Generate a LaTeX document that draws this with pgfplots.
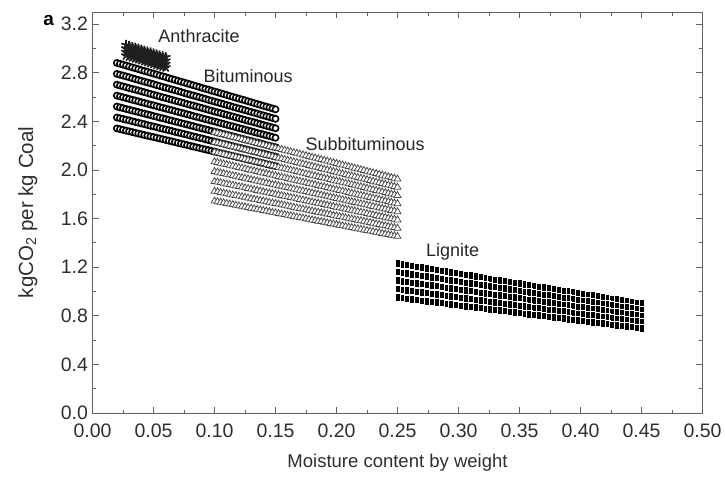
\documentclass[border=0pt]{standalone}
\usepackage{fontspec}
\setmainfont{Liberation Sans}
\usepackage{pgfplots}
\usepackage{pgfplotstable}
\pgfplotsset{compat=1.18}
\newcommand\lbl{\fontsize{18bp}{21bp}\selectfont}
\newcommand\tlbl{\fontsize{19.5bp}{23bp}\selectfont}

\pgfplotstableread{
m a1 a2 a3 a4
0.0275 3.029 3.000 2.971 2.942
0.0300 3.022 2.992 2.963 2.934
0.0325 3.014 2.985 2.956 2.927
0.0350 3.006 2.977 2.948 2.919
0.0375 2.998 2.969 2.940 2.912
0.0400 2.990 2.962 2.933 2.904
0.0425 2.983 2.954 2.925 2.896
0.0450 2.975 2.946 2.918 2.889
0.0475 2.967 2.938 2.910 2.881
0.0500 2.959 2.931 2.902 2.874
0.0525 2.951 2.923 2.895 2.866
0.0550 2.944 2.915 2.887 2.859
0.0575 2.936 2.908 2.879 2.851
0.0600 2.928 2.900 2.872 2.844
}\anth

\pgfplotstableread{
m b1 b2 b3 b4 b5 b6 b7
0.0200 2.881 2.791 2.702 2.612 2.522 2.432 2.342
0.0225 2.874 2.784 2.695 2.605 2.515 2.426 2.336
0.0250 2.867 2.777 2.688 2.598 2.509 2.420 2.330
0.0275 2.859 2.770 2.681 2.592 2.502 2.414 2.324
0.0300 2.852 2.763 2.674 2.585 2.496 2.408 2.318
0.0325 2.844 2.755 2.667 2.578 2.489 2.401 2.312
0.0350 2.837 2.748 2.661 2.572 2.483 2.395 2.306
0.0375 2.830 2.741 2.654 2.565 2.477 2.389 2.300
0.0400 2.822 2.734 2.647 2.558 2.470 2.383 2.294
0.0425 2.815 2.727 2.640 2.552 2.464 2.377 2.288
0.0450 2.808 2.720 2.633 2.545 2.457 2.370 2.282
0.0475 2.800 2.713 2.626 2.538 2.451 2.364 2.276
0.0500 2.793 2.706 2.619 2.532 2.444 2.358 2.271
0.0525 2.786 2.698 2.612 2.525 2.438 2.352 2.265
0.0550 2.778 2.691 2.605 2.518 2.431 2.345 2.259
0.0575 2.771 2.684 2.598 2.512 2.425 2.339 2.253
0.0600 2.764 2.677 2.592 2.505 2.419 2.333 2.247
0.0625 2.756 2.670 2.585 2.498 2.412 2.327 2.241
0.0650 2.749 2.663 2.578 2.492 2.406 2.321 2.235
0.0675 2.742 2.656 2.571 2.485 2.399 2.314 2.229
0.0700 2.734 2.649 2.564 2.478 2.393 2.308 2.223
0.0725 2.727 2.642 2.557 2.472 2.386 2.302 2.217
0.0750 2.720 2.634 2.550 2.465 2.380 2.296 2.211
0.0775 2.712 2.627 2.543 2.458 2.374 2.290 2.205
0.0800 2.705 2.620 2.536 2.452 2.367 2.283 2.199
0.0825 2.697 2.613 2.530 2.445 2.361 2.277 2.193
0.0850 2.690 2.606 2.523 2.438 2.354 2.271 2.187
0.0875 2.683 2.599 2.516 2.432 2.348 2.265 2.181
0.0900 2.675 2.592 2.509 2.425 2.341 2.259 2.175
0.0925 2.668 2.585 2.502 2.418 2.335 2.252 2.169
0.0950 2.661 2.577 2.495 2.412 2.329 2.246 2.163
0.0975 2.653 2.570 2.488 2.405 2.322 2.240 2.157
0.1000 2.646 2.563 2.481 2.399 2.316 2.234 2.151
0.1025 2.639 2.556 2.474 2.392 2.309 2.228 2.145
0.1050 2.631 2.549 2.468 2.385 2.303 2.221 2.139
0.1075 2.624 2.542 2.461 2.379 2.296 2.215 2.133
0.1100 2.617 2.535 2.454 2.372 2.290 2.209 2.127
0.1125 2.609 2.528 2.447 2.365 2.284 2.203 2.121
0.1150 2.602 2.520 2.440 2.359 2.277 2.197 2.115
0.1175 2.595 2.513 2.433 2.352 2.271 2.190 2.109
0.1200 2.587 2.506 2.426 2.345 2.264 2.184 2.103
0.1225 2.580 2.499 2.419 2.339 2.258 2.178 2.097
0.1250 2.573 2.492 2.412 2.332 2.251 2.172 2.091
0.1275 2.565 2.485 2.405 2.325 2.245 2.166 2.085
0.1300 2.558 2.478 2.399 2.319 2.239 2.159 2.079
0.1325 2.550 2.471 2.392 2.312 2.232 2.153 2.073
0.1350 2.543 2.464 2.385 2.305 2.226 2.147 2.067
0.1375 2.536 2.456 2.378 2.299 2.219 2.141 2.061
0.1400 2.528 2.449 2.371 2.292 2.213 2.135 2.055
0.1425 2.521 2.442 2.364 2.285 2.206 2.128 2.049
0.1450 2.514 2.435 2.357 2.279 2.200 2.122 2.043
0.1475 2.506 2.428 2.350 2.272 2.193 2.116 2.037
0.1500 2.499 2.421 2.343 2.265 2.187 2.110 2.032
}\bitu

\pgfplotstableread{
m s1 s2 s3 s4 s5 s6 s7 s8
0.1000 2.310 2.229 2.148 2.067 1.987 1.906 1.825 1.744
0.1025 2.304 2.223 2.142 2.062 1.982 1.901 1.820 1.739
0.1050 2.297 2.217 2.136 2.056 1.976 1.896 1.815 1.735
0.1075 2.291 2.211 2.130 2.050 1.971 1.890 1.810 1.730
0.1100 2.285 2.205 2.124 2.044 1.965 1.885 1.805 1.725
0.1125 2.278 2.198 2.118 2.039 1.960 1.880 1.800 1.720
0.1150 2.272 2.192 2.113 2.033 1.954 1.874 1.795 1.715
0.1175 2.265 2.186 2.107 2.027 1.949 1.869 1.790 1.710
0.1200 2.259 2.180 2.101 2.021 1.943 1.864 1.785 1.705
0.1225 2.253 2.174 2.095 2.016 1.938 1.859 1.780 1.701
0.1250 2.246 2.167 2.089 2.010 1.932 1.853 1.775 1.696
0.1275 2.240 2.161 2.083 2.004 1.926 1.848 1.769 1.691
0.1300 2.233 2.155 2.077 1.998 1.921 1.843 1.764 1.686
0.1325 2.227 2.149 2.071 1.993 1.915 1.837 1.759 1.681
0.1350 2.220 2.143 2.065 1.987 1.910 1.832 1.754 1.676
0.1375 2.214 2.136 2.059 1.981 1.904 1.827 1.749 1.672
0.1400 2.208 2.130 2.053 1.975 1.899 1.821 1.744 1.667
0.1425 2.201 2.124 2.047 1.970 1.893 1.816 1.739 1.662
0.1450 2.195 2.118 2.041 1.964 1.888 1.811 1.734 1.657
0.1475 2.188 2.112 2.035 1.958 1.882 1.806 1.729 1.652
0.1500 2.182 2.105 2.029 1.952 1.877 1.800 1.724 1.647
0.1525 2.176 2.099 2.023 1.947 1.871 1.795 1.719 1.642
0.1550 2.169 2.093 2.017 1.941 1.866 1.790 1.714 1.638
0.1575 2.163 2.087 2.011 1.935 1.860 1.784 1.709 1.633
0.1600 2.156 2.081 2.005 1.929 1.855 1.779 1.704 1.628
0.1625 2.150 2.074 1.999 1.924 1.849 1.774 1.698 1.623
0.1650 2.143 2.068 1.993 1.918 1.844 1.769 1.693 1.618
0.1675 2.137 2.062 1.987 1.912 1.838 1.763 1.688 1.613
0.1700 2.131 2.056 1.981 1.907 1.833 1.758 1.683 1.609
0.1725 2.124 2.050 1.975 1.901 1.827 1.753 1.678 1.604
0.1750 2.118 2.044 1.969 1.895 1.822 1.747 1.673 1.599
0.1775 2.111 2.037 1.963 1.889 1.816 1.742 1.668 1.594
0.1800 2.105 2.031 1.957 1.884 1.811 1.737 1.663 1.589
0.1825 2.099 2.025 1.951 1.878 1.805 1.731 1.658 1.584
0.1850 2.092 2.019 1.945 1.872 1.800 1.726 1.653 1.579
0.1875 2.086 2.013 1.939 1.866 1.794 1.721 1.648 1.575
0.1900 2.079 2.006 1.933 1.861 1.788 1.716 1.643 1.570
0.1925 2.073 2.000 1.928 1.855 1.783 1.710 1.638 1.565
0.1950 2.066 1.994 1.922 1.849 1.777 1.705 1.633 1.560
0.1975 2.060 1.988 1.916 1.843 1.772 1.700 1.627 1.555
0.2000 2.054 1.982 1.910 1.838 1.766 1.694 1.622 1.550
0.2025 2.047 1.975 1.904 1.832 1.761 1.689 1.617 1.546
0.2050 2.041 1.969 1.898 1.826 1.755 1.684 1.612 1.541
0.2075 2.034 1.963 1.892 1.820 1.750 1.679 1.607 1.536
0.2100 2.028 1.957 1.886 1.815 1.744 1.673 1.602 1.531
0.2125 2.022 1.951 1.880 1.809 1.739 1.668 1.597 1.526
0.2150 2.015 1.944 1.874 1.803 1.733 1.663 1.592 1.521
0.2175 2.009 1.938 1.868 1.797 1.728 1.657 1.587 1.516
0.2200 2.002 1.932 1.862 1.792 1.722 1.652 1.582 1.512
0.2225 1.996 1.926 1.856 1.786 1.717 1.647 1.577 1.507
0.2250 1.989 1.920 1.850 1.780 1.711 1.641 1.572 1.502
0.2275 1.983 1.913 1.844 1.774 1.706 1.636 1.567 1.497
0.2300 1.977 1.907 1.838 1.769 1.700 1.631 1.562 1.492
0.2325 1.970 1.901 1.832 1.763 1.695 1.626 1.556 1.487
0.2350 1.964 1.895 1.826 1.757 1.689 1.620 1.551 1.483
0.2375 1.957 1.889 1.820 1.751 1.684 1.615 1.546 1.478
0.2400 1.951 1.883 1.814 1.746 1.678 1.610 1.541 1.473
0.2425 1.945 1.876 1.808 1.740 1.673 1.604 1.536 1.468
0.2450 1.938 1.870 1.802 1.734 1.667 1.599 1.531 1.463
0.2475 1.932 1.864 1.796 1.728 1.662 1.594 1.526 1.458
0.2500 1.925 1.858 1.790 1.723 1.656 1.589 1.521 1.454
}\subb

\pgfplotstableread{
m l1 l2 l3 l4 l5
0.250 1.231 1.161 1.091 1.021 0.951
0.254 1.224 1.155 1.085 1.015 0.946
0.258 1.218 1.149 1.080 1.010 0.941
0.262 1.211 1.142 1.074 1.004 0.936
0.266 1.204 1.136 1.068 0.999 0.931
0.270 1.198 1.130 1.062 0.994 0.926
0.274 1.191 1.124 1.056 0.988 0.921
0.278 1.185 1.118 1.051 0.983 0.916
0.282 1.178 1.111 1.045 0.977 0.910
0.286 1.172 1.105 1.039 0.972 0.905
0.290 1.165 1.099 1.033 0.966 0.900
0.294 1.159 1.093 1.027 0.961 0.895
0.298 1.152 1.087 1.021 0.955 0.890
0.302 1.145 1.080 1.016 0.950 0.885
0.306 1.139 1.074 1.010 0.945 0.880
0.310 1.132 1.068 1.004 0.939 0.875
0.314 1.126 1.062 0.998 0.934 0.870
0.318 1.119 1.056 0.992 0.928 0.865
0.322 1.113 1.050 0.986 0.923 0.860
0.326 1.106 1.043 0.981 0.917 0.855
0.330 1.099 1.037 0.975 0.912 0.850
0.334 1.093 1.031 0.969 0.906 0.844
0.338 1.086 1.025 0.963 0.901 0.839
0.342 1.080 1.019 0.957 0.896 0.834
0.346 1.073 1.012 0.952 0.890 0.829
0.350 1.067 1.006 0.946 0.885 0.824
0.354 1.060 1.000 0.940 0.879 0.819
0.358 1.054 0.994 0.934 0.874 0.814
0.362 1.047 0.988 0.928 0.868 0.809
0.366 1.040 0.981 0.922 0.863 0.804
0.370 1.034 0.975 0.917 0.857 0.799
0.374 1.027 0.969 0.911 0.852 0.794
0.378 1.021 0.963 0.905 0.847 0.789
0.382 1.014 0.957 0.899 0.841 0.784
0.386 1.008 0.950 0.893 0.836 0.779
0.390 1.001 0.944 0.888 0.830 0.773
0.394 0.994 0.938 0.882 0.825 0.768
0.398 0.988 0.932 0.876 0.819 0.763
0.402 0.981 0.926 0.870 0.814 0.758
0.406 0.975 0.920 0.864 0.808 0.753
0.410 0.968 0.913 0.858 0.803 0.748
0.414 0.962 0.907 0.853 0.798 0.743
0.418 0.955 0.901 0.847 0.792 0.738
0.422 0.949 0.895 0.841 0.787 0.733
0.426 0.942 0.889 0.835 0.781 0.728
0.430 0.935 0.882 0.829 0.776 0.723
0.434 0.929 0.876 0.824 0.770 0.718
0.438 0.922 0.870 0.818 0.765 0.713
0.442 0.916 0.864 0.812 0.759 0.708
0.446 0.909 0.858 0.806 0.754 0.702
0.450 0.903 0.851 0.800 0.749 0.697
}\lign

\begin{document}
\begin{tikzpicture}
\useasboundingbox (-92.5bp,-67bp) rectangle (632.5bp,413bp);
\begin{axis}[
  scale only axis, width=610bp, height=401bp,
  at={(0,0)}, anchor=south west,
  xmin=0, xmax=0.5, ymin=0, ymax=3.3,
  xtick={0,0.05,0.1,0.15,0.2,0.25,0.3,0.35,0.4,0.45,0.5},
  ytick={0,0.4,0.8,1.2,1.6,2.0,2.4,2.8,3.2},
  minor x tick num=1, minor y tick num=1,
  xtick pos=both, ytick pos=both,
  tick align=inside,
  major tick length=6bp, minor tick length=3.5bp,
  axis line style={black!62, line width=0.9bp},
  every tick/.style={black!62, line width=0.8bp},
  /pgf/number format/assume math mode=true,
  tick label style={font=\tlbl, text=black!82},
  xticklabel style={/pgf/number format/fixed, /pgf/number format/fixed zerofill, /pgf/number format/precision=2, yshift=-7bp},
  yticklabel style={/pgf/number format/fixed, /pgf/number format/fixed zerofill, /pgf/number format/precision=1, xshift=-1bp},
  xlabel={Moisture content by weight},
  ylabel={kgCO\textsubscript{2} per kg Coal},
  label style={text=black!82},
  xlabel style={font=\fontsize{18.5bp}{22bp}\selectfont, at={(axis description cs:0.5,-0.125)}, anchor=center},
  ylabel style={font=\fontsize{20.5bp}{24bp}\selectfont, at={(axis description cs:-0.106,0.5)}, anchor=center},
  clip=false,
]
% Anthracite
\pgfplotsset{antstyle/.style={only marks, mark=star, mark size=5bp, mark options={draw=black!88, line width=1.7bp}}}
\addplot[antstyle] table[x=m, y=a1] {\anth};
\addplot[antstyle] table[x=m, y=a2] {\anth};
\addplot[antstyle] table[x=m, y=a3] {\anth};
\addplot[antstyle] table[x=m, y=a4] {\anth};
% Bituminous
\pgfplotsset{bitstyle/.style={only marks, mark=*, mark size=3.1bp, mark options={fill=white, draw=black, line width=1.6bp}}}
\addplot[bitstyle] table[x=m, y=b1] {\bitu};
\addplot[bitstyle] table[x=m, y=b2] {\bitu};
\addplot[bitstyle] table[x=m, y=b3] {\bitu};
\addplot[bitstyle] table[x=m, y=b4] {\bitu};
\addplot[bitstyle] table[x=m, y=b5] {\bitu};
\addplot[bitstyle] table[x=m, y=b6] {\bitu};
\addplot[bitstyle] table[x=m, y=b7] {\bitu};
% Subbituminous
\pgfplotsset{substyle/.style={only marks, mark=triangle*, mark size=4bp, mark options={fill=white, draw=black!72, line width=0.75bp}}}
\addplot[substyle] table[x=m, y=s1] {\subb};
\addplot[substyle] table[x=m, y=s2] {\subb};
\addplot[substyle] table[x=m, y=s3] {\subb};
\addplot[substyle] table[x=m, y=s4] {\subb};
\addplot[substyle] table[x=m, y=s5] {\subb};
\addplot[substyle] table[x=m, y=s6] {\subb};
\addplot[substyle] table[x=m, y=s7] {\subb};
\addplot[substyle] table[x=m, y=s8] {\subb};
% Lignite
\pgfplotsset{ligstyle/.style={only marks, mark=square*, mark size=3.7bp, mark options={xscale=0.68, fill=black, draw=white, line width=0.5bp}}}
\addplot[ligstyle] table[x=m, y=l1] {\lign};
\addplot[ligstyle] table[x=m, y=l2] {\lign};
\addplot[ligstyle] table[x=m, y=l3] {\lign};
\addplot[ligstyle] table[x=m, y=l4] {\lign};
\addplot[ligstyle] table[x=m, y=l5] {\lign};
% Labels
\node[font=\lbl, text=black!85] at (axis cs:0.0873,3.10) {Anthracite};
\node[font=\lbl, text=black!85] at (axis cs:0.1275,2.77) {Bituminous};
\node[font=\lbl, text=black!85] at (axis cs:0.2234,2.21) {Subbituminous};
\node[font=\lbl, text=black!85] at (axis cs:0.2951,1.33) {Lignite};
\node[font=\fontsize{19bp}{22bp}\selectfont\bfseries] at (axis description cs:-0.072,0.978) {a};
\end{axis}
\end{tikzpicture}
\end{document}
